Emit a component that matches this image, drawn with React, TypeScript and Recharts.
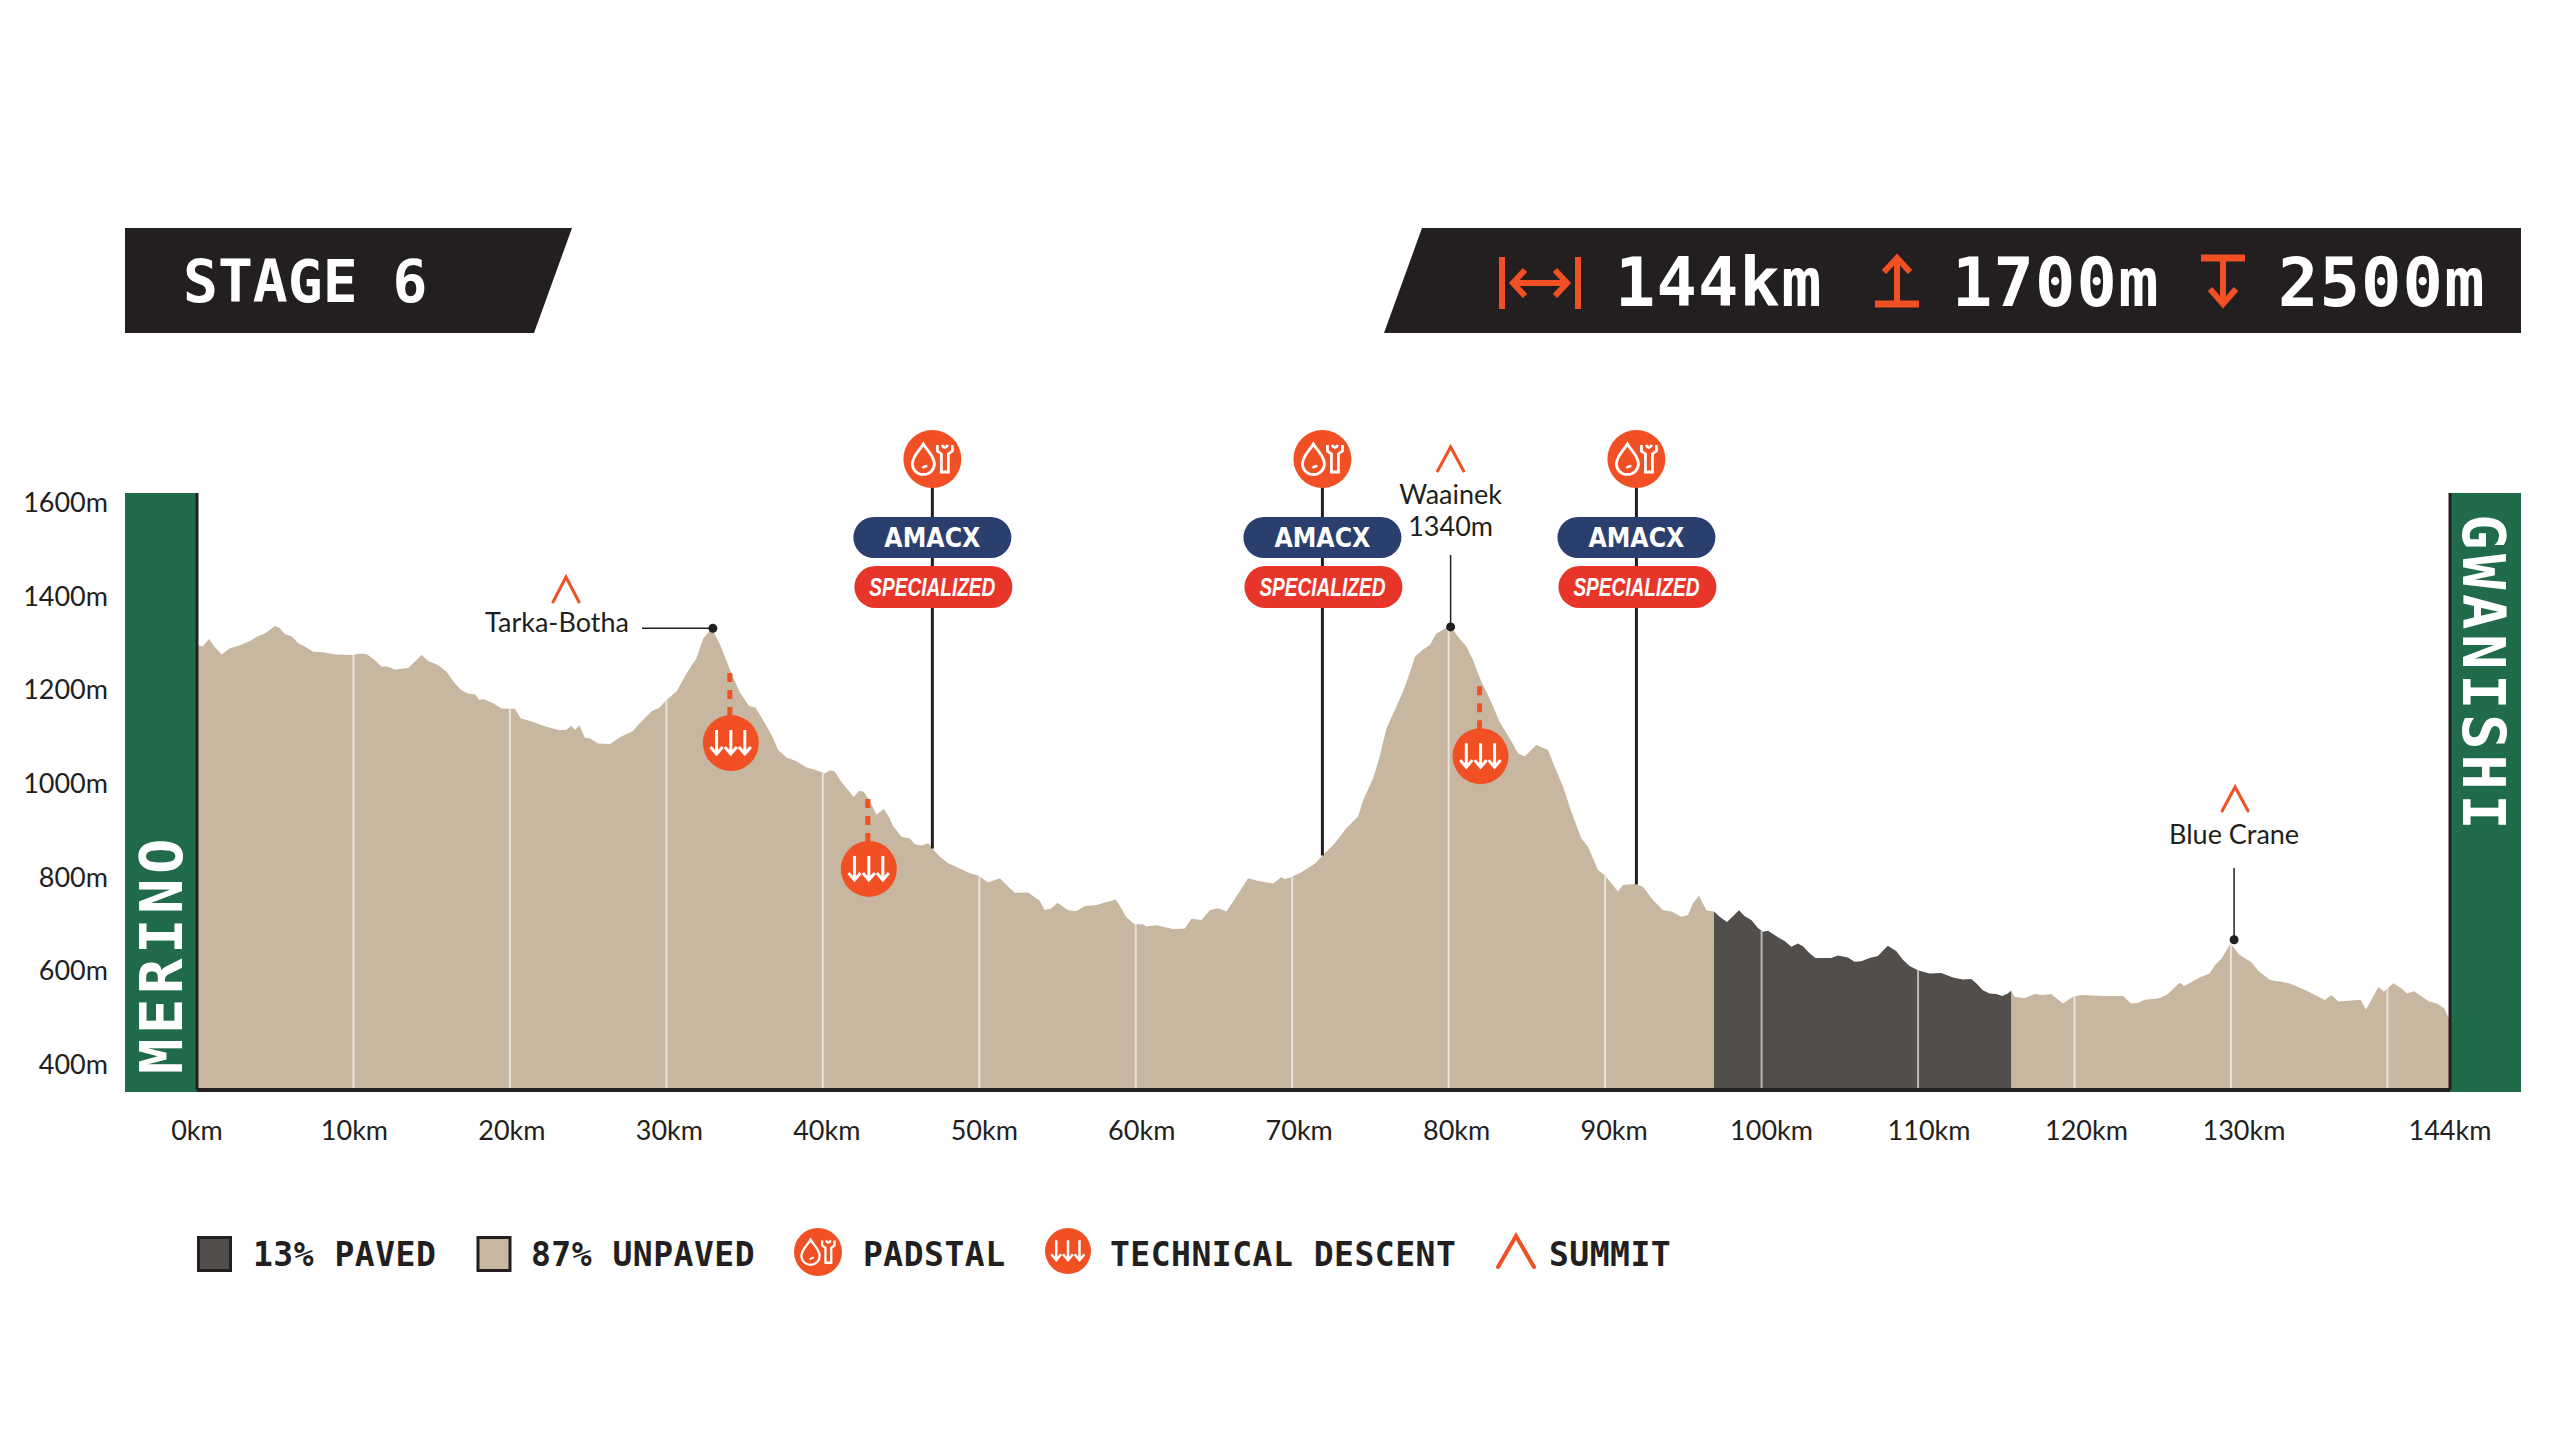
import React from "react";
import { ComposedChart, Area, XAxis, YAxis, ReferenceLine, ReferenceDot } from "recharts";

const distanceKm = [
  0.06, 0.36, 0.77, 1.04, 1.58, 2.07, 2.75, 3.39, 3.81, 4.35, 4.98, 5.3, 5.6, 6.05, 6.47, 6.9, 7.43, 8.07, 8.82, 9.93,
  10.52, 10.88, 11.37, 11.8, 12.1, 12.65, 13.5, 13.93, 14.36, 14.78, 15.42, 15.95, 16.4, 16.9, 17.34, 17.76, 18.04, 18.3, 18.93, 19.47,
  20.32, 20.68, 21.5, 22.13, 23.09, 23.6, 23.9, 24.17, 24.43, 24.8, 25.1, 25.64, 26.39, 27.0, 27.88, 28.3, 29.05, 29.58, 30.0, 30.65,
  31.29, 31.92, 32.35, 32.78, 32.97, 33.45, 34.07, 34.68, 35.29, 35.7, 36.3, 36.72, 37.15, 37.68, 38.32, 38.96, 39.38, 39.91, 40.13, 40.45,
  40.77, 41.19, 41.62, 41.98, 42.32, 42.62, 43.0, 43.43, 43.9, 44.28, 44.45, 45.03, 45.56, 45.88, 46.3, 46.73, 47.05, 47.48, 48.01, 48.75,
  49.39, 49.93, 50.56, 51.31, 51.74, 52.27, 53.12, 53.87, 54.18, 54.61, 55.0, 55.68, 56.2, 56.74, 57.49, 58.23, 58.72, 59.08, 59.4, 59.94,
  60.47, 60.68, 61.32, 62.38, 63.13, 63.56, 64.2, 64.73, 65.26, 65.8, 66.43, 67.18, 67.92, 68.78, 69.31, 69.52, 69.95, 70.59, 71.44, 71.97,
  72.72, 73.46, 74.21, 74.53, 75.17, 75.59, 76.02, 76.66, 77.08, 77.51, 77.83, 78.36, 78.79, 79.21, 79.64, 80.11, 80.6, 81.13, 81.56, 82.09,
  82.62, 83.26, 83.9, 84.43, 84.86, 85.28, 85.6, 86.35, 86.78, 87.31, 87.84, 88.48, 88.9, 89.54, 89.97, 90.82, 91.14, 91.89, 92.42, 93.06,
  93.7, 94.23, 94.87, 95.3, 95.61, 96.0, 96.47, 96.96, 97.32, 97.79, 98.17, 98.55, 98.92, 99.34, 99.77, 100.09, 100.41, 101.05, 101.47, 101.9,
  102.32, 102.64, 103.07, 103.45, 104.45, 104.88, 105.52, 105.94, 106.37, 106.9, 107.43, 108.07, 108.6, 109.03, 109.46, 109.99, 110.74, 111.48, 112.23, 112.87,
  113.4, 113.72, 114.14, 114.57, 115.0, 115.38, 115.74, 115.95, 116.17, 116.8, 117.45, 117.98, 118.51, 119.26, 119.9, 120.43, 121.92, 123.09, 123.62, 124.05,
  124.47, 125.43, 125.97, 126.71, 127.03, 127.99, 128.63, 128.99, 129.4, 129.97, 130.57, 131.27, 131.79, 132.5, 133.72, 134.77, 136.0, 136.42, 136.87, 138.28,
  138.63, 139.43, 139.78, 140.38, 140.9, 141.25, 141.71, 142.66, 143.18, 143.64, 143.88, 144,
];
const elevationM = [
  1301, 1298, 1314, 1301, 1281, 1294, 1301, 1310, 1319, 1326, 1342, 1337, 1325, 1320, 1305, 1298, 1287, 1286, 1281, 1280,
  1283, 1281, 1269, 1255, 1256, 1249, 1252, 1266, 1280, 1267, 1258, 1244, 1223, 1205, 1197, 1196, 1184, 1186, 1177, 1166,
  1165, 1145, 1137, 1129, 1120, 1120, 1129, 1120, 1130, 1103, 1102, 1091, 1090, 1104, 1118, 1134, 1160, 1168, 1184, 1202,
  1241, 1273, 1315, 1332, 1333, 1301, 1248, 1201, 1171, 1168, 1134, 1109, 1077, 1061, 1053, 1040, 1036, 1030, 1027, 1034,
  1031, 1009, 991, 977, 990, 988, 968, 939, 951, 931, 917, 892, 888, 876, 873, 878, 865, 849, 835, 824,
  814, 809, 794, 803, 789, 772, 773, 755, 735, 739, 751, 735, 733, 744, 746, 753, 758, 739, 720, 705,
  705, 700, 703, 695, 696, 717, 714, 735, 739, 732, 764, 803, 797, 792, 806, 801, 806, 816, 834, 853,
  878, 910, 935, 970, 1016, 1063, 1123, 1170, 1202, 1241, 1276, 1292, 1301, 1326, 1334, 1342, 1319, 1298, 1269, 1223,
  1187, 1137, 1102, 1070, 1063, 1077, 1088, 1077, 1041, 999, 945, 888, 871, 821, 810, 775, 789, 791, 785, 757,
  735, 732, 721, 725, 750, 766, 735, 732, 721, 710, 722, 735, 722, 714, 697, 689, 691, 677, 669, 657,
  664, 658, 643, 633, 633, 638, 634, 625, 626, 633, 637, 659, 648, 629, 616, 607, 600, 601, 591, 587,
  588, 579, 564, 557, 556, 552, 557, 563, 550, 547, 556, 554, 556, 536, 550, 554, 552, 552, 536, 537,
  544, 547, 556, 580, 573, 591, 600, 618, 632, 664, 639, 625, 604, 586, 579, 564, 543, 554, 540, 544,
  523, 571, 561, 579, 568, 557, 562, 540, 536, 525, 507, 505,
];

const pavedFromKm = 96.96;
const pavedToKm = 115.95;
const xTicks = [0, 10, 20, 30, 40, 50, 60, 70, 80, 90, 100, 110, 120, 130, 144];
const gridKm = [10, 20, 30, 40, 50, 60, 70, 80, 90, 100, 110, 120, 130, 140];
const yTicks = [400, 600, 800, 1000, 1200, 1400, 1600];
const padstalKm = [47.0, 71.93, 92.0];
const descents = [
  { km: 34.12, m: 1092 },
  { km: 42.94, m: 823 },
  { km: 82.04, m: 1064 },
];
const summitKm = [32.97, 80.06, 130.2];

const table = distanceKm.map((km, i) => {
  const paved = km >= pavedFromKm && km <= pavedToKm;
  const edge = km === pavedFromKm || km === pavedToKm;
  return { km, unpaved: !paved || edge ? elevationM[i] : null, paved: paved ? elevationM[i] : null };
});

const elevationAt = (km: number) => {
  let i = distanceKm.findIndex((d) => d >= km);
  if (i <= 0) return elevationM[0];
  const t = (km - distanceKm[i - 1]) / (distanceKm[i] - distanceKm[i - 1]);
  return elevationM[i - 1] + t * (elevationM[i] - elevationM[i - 1]);
};

const INK = "#231f20";
const ORANGE = "#f15025";
const GREEN = "#1f6b4a";
const SAND = "#c7b7a0";
const PAVED = "#514e4c";
const LABEL = "Lato, sans-serif";
const MONO = "'DejaVu Sans Mono', monospace";

const PadstalIcon = ({ cx, cy, r }: any) => {
  const s = r / 29;
  return (
    <g transform={`translate(${cx},${cy}) scale(${s})`}>
      <circle r={29} fill={ORANGE} />
      <path d="M-9,-15 C-5,-8 2,-3 2,5 A10.5,10 0 0 1 -20,5 C-20,-3 -13,-8 -9,-15 Z" fill="none" stroke="#fff" strokeWidth={2.8} />
      <path d="M-5,7 Q-8,7 -10,9" fill="none" stroke="#fff" strokeWidth={2.4} />
      <path d="M7,-14 L7,-8 L11,-5 L11,13 L18,13 L18,-5 L22,-8 L22,-14 M11.5,-14 Q14.5,-9 17.5,-14" fill="none" stroke="#fff" strokeWidth={2.8} transform="translate(-2,0)" />
    </g>
  );
};

const DescentIcon = ({ cx, cy, r }: any) => {
  const s = r / 28;
  return (
    <g transform={`translate(${cx},${cy}) scale(${s})`}>
      <circle r={28} fill={ORANGE} />
      {[-14.3, 0, 14].map((dx) => (
        <path key={dx} d={`M${dx},-13 L${dx},11 M${dx - 6},4 L${dx},11 L${dx + 6},4`} fill="none" stroke="#fff" strokeWidth={3} />
      ))}
    </g>
  );
};

const Chevron = ({ x, top, bottom, half, w = 3 }: any) => (
  <path d={`M${x - half},${bottom} L${x},${top} L${x + half},${bottom}`} fill="none" stroke={ORANGE} strokeWidth={w} strokeLinecap="round" />
);

const Padstal = ({ cx, cy }: any) => (
  <g>
    <line x1={cx} x2={cx} y1={cy} y2={459} stroke={INK} strokeWidth={3} />
    <PadstalIcon cx={cx} cy={459} r={29} />
    <rect x={cx - 79} y={517} width={158} height={41} rx={20.5} fill="#2a3f6e" />
    <text x={cx} y={547} textAnchor="middle" fill="#fff" fontFamily="'DejaVu Sans', sans-serif" fontWeight={700} fontSize={26} textLength={96} lengthAdjust="spacingAndGlyphs">AMACX</text>
    <rect x={cx - 78} y={566} width={158} height={42} rx={21} fill="#e8352a" />
    <text x={cx} y={596} textAnchor="middle" fill="#fff" fontFamily="'Liberation Sans Narrow', 'Liberation Sans', sans-serif" fontStyle="italic" fontWeight={700} fontSize={25} textLength={126} lengthAdjust="spacingAndGlyphs">SPECIALIZED</text>
  </g>
);

const Descent = ({ cx, cy }: any) => (
  <g>
    <line x1={cx - 1} x2={cx - 1} y1={cy - 70} y2={cy - 26} stroke={ORANGE} strokeWidth={5} strokeDasharray="9 8" />
    <DescentIcon cx={cx} cy={cy} r={28} />
  </g>
);

const Dot = ({ cx, cy }: any) => <circle cx={cx} cy={cy} r={4.5} fill={INK} />;

const summitShapes = [
  ({ cx, cy }: any) => (
    <g>
      <line x1={642} x2={cx} y1={cy} y2={cy} stroke={INK} strokeWidth={1.5} />
      <Dot cx={cx} cy={cy} />
      <Chevron x={566} top={577} bottom={602} half={13} />
      <text x={557} y={632} textAnchor="middle" fontFamily={LABEL} fontSize={27} fill={INK}>Tarka-Botha</text>
    </g>
  ),
  ({ cx, cy }: any) => (
    <g>
      <line x1={cx + 1} x2={cx + 1} y1={555} y2={cy} stroke={INK} strokeWidth={1.5} />
      <Dot cx={cx + 1} cy={cy} />
      <Chevron x={cx + 1} top={447} bottom={471} half={13} />
      <text x={cx + 1} y={504} textAnchor="middle" fontFamily={LABEL} fontSize={27} fill={INK}>Waainek</text>
      <text x={cx + 1} y={536} textAnchor="middle" fontFamily={LABEL} fontSize={27} fill={INK}>1340m</text>
    </g>
  ),
  ({ cx, cy }: any) => (
    <g>
      <line x1={cx} x2={cx} y1={868} y2={cy} stroke={INK} strokeWidth={1.5} />
      <Dot cx={cx} cy={cy} />
      <Chevron x={cx + 1} top={787} bottom={811} half={13} />
      <text x={cx} y={844} textAnchor="middle" fontFamily={LABEL} fontSize={27} fill={INK}>Blue Crane</text>
    </g>
  ),
];
const summitY = [1337, 1340, 672];

const XTick = ({ x, y, payload }: any) => {
  const km = payload.value;
  const shift = km === 144 ? 0 : km * 0.1;
  return (
    <text x={x + shift} y={y + 48} textAnchor="middle" fontFamily={LABEL} fontSize={27} fill={INK}>
      {km}km
    </text>
  );
};

const YTick = ({ x, y, payload }: any) => (
  <text x={x + 1} y={y + 7} textAnchor="end" fontFamily={LABEL} fontSize={27} fill={INK}>
    {payload.value}m
  </text>
);

const Banners = () => (
  <svg width={2560} height={1440} style={{ position: "absolute", left: 0, top: 0 }}>
    <polygon points="125,228 572,228 534,333 125,333" fill={INK} />
    <polygon points="1422,228 2521,228 2521,333 1384,333" fill={INK} />
    <text x={183} y={302} fontFamily={MONO} fontWeight={700} fontSize={58} fill="#fff">STAGE 6</text>

    <g stroke={ORANGE} fill="none" strokeWidth={6}>
      <path d="M1502,257 V309 M1578,257 V309" />
      <path d="M1514,283 H1566 M1525,270 L1513,283 L1525,296 M1555,270 L1567,283 L1555,296" />
      <path d="M1897,260 V303 M1884,272 L1897,258 L1910,272" />
      <path d="M1875,304 H1919" strokeWidth={7} />
      <path d="M2223,258 V302 M2210,289 L2223,304 L2236,289" />
      <path d="M2201,258 H2245" strokeWidth={7} />
    </g>
    <text x={1615} y={306} fontFamily={MONO} fontWeight={700} fontSize={67} letterSpacing={1.2} fill="#fff">144km</text>
    <text x={1952} y={306} fontFamily={MONO} fontWeight={700} fontSize={67} letterSpacing={1.2} fill="#fff">1700m</text>
    <text x={2278} y={306} fontFamily={MONO} fontWeight={700} fontSize={67} letterSpacing={1.2} fill="#fff">2500m</text>

    <rect x={125} y={493} width={72} height={599} fill={GREEN} />
    <rect x={2449} y={493} width={72} height={599} fill={GREEN} />
    <text transform="translate(182,1074) rotate(-90)" fontFamily={MONO} fontWeight={700} fontSize={59} letterSpacing={4.5} fill="#fff">MERINO</text>
    <text transform="translate(2463,514) rotate(90)" fontFamily={MONO} fontWeight={700} fontSize={59} letterSpacing={4.5} fill="#fff">GWANISHI</text>

    <rect x={198.5} y={1237.5} width={32} height={33} fill={PAVED} stroke={INK} strokeWidth={3} />
    <text x={253} y={1266} fontFamily={MONO} fontWeight={700} fontSize={33} letterSpacing={0.5} fill={INK}>13% PAVED</text>
    <rect x={478} y={1237.5} width={32} height={33} fill={SAND} stroke={INK} strokeWidth={3} />
    <text x={531} y={1266} fontFamily={MONO} fontWeight={700} fontSize={33} letterSpacing={0.5} fill={INK}>87% UNPAVED</text>
    <PadstalIcon cx={818} cy={1252} r={24} />
    <text x={863} y={1266} fontFamily={MONO} fontWeight={700} fontSize={33} letterSpacing={0.5} fill={INK}>PADSTAL</text>
    <DescentIcon cx={1068} cy={1251} r={23} />
    <text x={1110} y={1266} fontFamily={MONO} fontWeight={700} fontSize={33} letterSpacing={0.5} fill={INK}>TECHNICAL DESCENT</text>
    <Chevron x={1516} top={1236} bottom={1267} half={18} w={4} />
    <text x={1549} y={1266} fontFamily={MONO} fontWeight={700} fontSize={33} letterSpacing={0.5} fill={INK}>SUMMIT</text>
  </svg>
);

export default function App() {
  return (
    <div style={{ position: "absolute", left: 0, top: 0, width: 2560, height: 1440, background: "#fff", overflow: "hidden" }}>
      <Banners />
      <div style={{ position: "absolute", left: 0, top: 0 }}>
        <ComposedChart width={2560} height={1440} data={table} margin={{ top: 493, right: 110, bottom: 290, left: 97 }}>
          <XAxis
            dataKey="km"
            type="number"
            scale="linear"
            domain={[0, 144]}
            ticks={xTicks}
            interval={0}
            height={60}
            tick={XTick}
            tickLine={false}
            tickSize={0}
            axisLine={{ stroke: INK, strokeWidth: 4 }}
          />
          <YAxis
            type="number"
            domain={[351, 1626]}
            ticks={yTicks}
            interval={0}
            width={100}
            tick={YTick}
            tickLine={false}
            tickSize={0}
            tickMargin={90}
            axisLine={{ stroke: INK, strokeWidth: 3 }}
            allowDataOverflow
          />
          <Area dataKey="unpaved" type="linear" fill={SAND} fillOpacity={1} stroke="none" dot={false} activeDot={false} isAnimationActive={false} connectNulls={false} />
          <Area dataKey="paved" type="linear" fill={PAVED} fillOpacity={1} stroke="none" dot={false} activeDot={false} isAnimationActive={false} connectNulls={false} />
          {gridKm.map((km) => (
            <ReferenceLine
              key={km}
              segment={[{ x: km, y: 351 }, { x: km, y: elevationAt(km) }]}
              stroke="#fff"
              strokeOpacity={0.6}
              strokeWidth={2}
            />
          ))}
          <ReferenceLine x={144} stroke={INK} strokeWidth={3} />
          {padstalKm.map((km) => (
            <ReferenceDot key={km} x={km} y={elevationAt(km)} r={0} ifOverflow="visible" shape={Padstal} />
          ))}
          {descents.map((d) => (
            <ReferenceDot key={d.km} x={d.km} y={d.m} r={0} ifOverflow="visible" shape={Descent} />
          ))}
          {summitKm.map((km, i) => (
            <ReferenceDot key={km} x={km} y={summitY[i]} r={0} ifOverflow="visible" shape={summitShapes[i]} />
          ))}
        </ComposedChart>
      </div>
    </div>
  );
}
